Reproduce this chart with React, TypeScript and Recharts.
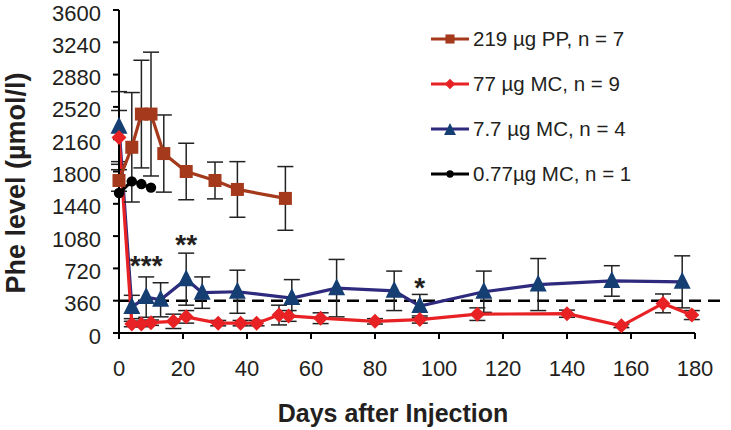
import React from "react";
import {
  LineChart, Line, XAxis, YAxis, ErrorBar, ReferenceLine, ReferenceDot, Legend,
} from "recharts";

const FONT = '"Liberation Sans", Arial, Helvetica, sans-serif';
const INK = "#231f20";

// 219 µg PP, n = 7
const ppDays = [0, 4, 7, 10, 14, 21, 30, 37, 52];
const ppPhe = [1700, 2070, 2440, 2440, 2000, 1800, 1700, 1600, 1500];
const ppSd = [120, 610, 600, 690, 430, 315, 205, 310, 355];

// 77 µg MC, n = 9
const mc77Days = [0, 4, 7, 10, 17, 21, 31, 38, 43, 50, 53, 63, 80, 94, 112, 140, 157, 170, 179];
const mc77Phe = [2180, 100, 100, 115, 130, 180, 110, 110, 110, 200, 190, 165, 130, 150, 210, 215, 80, 330, 200];
const mc77Sd = [300, 30, 30, 30, 80, 70, 30, 30, 30, 110, 60, 60, 30, 40, 70, 40, 20, 105, 50];

// 7.7 µg MC, n = 4
const mc7Days = [0, 4, 8.5, 13, 21, 26, 37, 54, 68, 86, 94, 114, 131, 154, 176];
const mc7Phe = [2300, 290, 400, 370, 600, 450, 460, 390, 500, 470, 300, 460, 540, 580, 570];
const mc7Sd = [390, 130, 225, 190, 290, 175, 240, 205, 320, 220, 130, 230, 290, 170, 290];

// 0.77 µg MC, n = 1
const mc077Days = [0, 4, 7, 10];
const mc077Phe = [1560, 1690, 1660, 1620];

const xTicks = [0, 20, 40, 60, 80, 100, 120, 140, 160, 180];
const yTicks = [0, 360, 720, 1080, 1440, 1800, 2160, 2520, 2880, 3240, 3600];
const PHE_LIMIT = 360;

const sigDays = [8.5, 21, 94];
const sigPhe = [820, 1060, 580];
const sigText = ["***", "**", "*"];

const rows = (days: number[], phe: number[], sd?: number[]) =>
  days.map((d, i) => ({ day: d, phe: phe[i], sd: sd ? sd[i] : 0 }));

type Shape = "square" | "diamond" | "triangle" | "circle";

function Marker({ shape, x, y, fill, s = 1 }: { shape: Shape; x: number; y: number; fill: string; s?: number }) {
  if (shape === "square") {
    const h = 6.5 * s;
    return <rect x={x - h} y={y - h} width={h * 2} height={h * 2} fill={fill} />;
  }
  if (shape === "diamond") {
    const h = 7.5 * s;
    return <polygon points={`${x},${y - h} ${x + h},${y} ${x},${y + h} ${x - h},${y}`} fill={fill} />;
  }
  if (shape === "triangle") {
    return (
      <polygon
        points={`${x},${y - 10 * s} ${x + 8.5 * s},${y + 7 * s} ${x - 8.5 * s},${y + 7 * s}`}
        fill={fill}
      />
    );
  }
  return <circle cx={x} cy={y} r={5.2 * s} fill={fill} />;
}

const series = [
  { name: "219 µg PP, n = 7", line: "#a5391c", fill: "#a5391c", shape: "square" as Shape, data: rows(ppDays, ppPhe, ppSd), err: true },
  { name: "77 µg MC, n = 9", line: "#e82224", fill: "#e82224", shape: "diamond" as Shape, data: rows(mc77Days, mc77Phe, mc77Sd), err: true },
  { name: "7.7 µg MC, n = 4", line: "#2e2a7e", fill: "#153e73", shape: "triangle" as Shape, data: rows(mc7Days, mc7Phe, mc7Sd), err: true },
  { name: "0.77µg MC, n = 1", line: "#000000", fill: "#000000", shape: "circle" as Shape, data: rows(mc077Days, mc077Phe), err: false },
];

// draw order: blue under red, brown and black on top
const drawOrder = [2, 1, 0, 3];

const dotFor = (shape: Shape, fill: string) => (p: any) => {
  if (p.cx == null || p.cy == null) return <g key={p.index} />;
  return (
    <g key={p.index}>
      <Marker shape={shape} x={p.cx} y={p.cy} fill={fill} />
    </g>
  );
};

const YTick = (p: any) => (
  <text x={p.x} y={p.y + 3} textAnchor="end" dominantBaseline="central" fontFamily={FONT} fontSize={22} fill={INK}>
    {p.payload.value}
  </text>
);

const renderLegend = () => (
  <div style={{ fontFamily: FONT, fontSize: 20.5, color: INK }}>
    {series.map((s) => (
      <div key={s.name} style={{ display: "flex", alignItems: "center", height: 45 }}>
        <svg width={38} height={20} style={{ flex: "none" }}>
          <line x1={0} y1={10} x2={38} y2={10} stroke={s.line} strokeWidth={3} />
          <Marker shape={s.shape} x={19} y={s.shape === "triangle" ? 11 : 10} fill={s.fill} s={0.7} />
        </svg>
        <span style={{ marginLeft: 4, whiteSpace: "nowrap" }}>{s.name}</span>
      </div>
    ))}
  </div>
);

const sigLabel = (text: string) => (p: any) => {
  const vb = p.viewBox || {};
  const cx = vb.x + (vb.width || 0) / 2;
  const cy = vb.y + (vb.height || 0) / 2;
  return (
    <text x={cx} y={cy + 16} textAnchor="middle" fontFamily={FONT} fontSize={28} fontWeight="bold" fill={INK}>
      {text}
    </text>
  );
};

export default function App() {
  return (
    <div style={{ position: "absolute", left: 0, top: 0, width: 731, height: 430, background: "#fff" }}>
      <LineChart width={731} height={430} margin={{ top: 10, right: 36, bottom: 0, left: 0 }}>
        <XAxis
          dataKey="day"
          type="number"
          domain={[0, 180]}
          ticks={xTicks}
          interval={0}
          height={97}
          tickSize={6}
          tickMargin={21}
          axisLine={{ stroke: "#000", strokeWidth: 2 }}
          tickLine={{ stroke: "#000", strokeWidth: 2 }}
          tick={{ fontSize: 22, fill: INK, fontFamily: FONT }}
          label={() => (
            <text x={393} y={422} textAnchor="middle" fontFamily={FONT} fontSize={25} fontWeight="bold" fill={INK}>
              Days after Injection
            </text>
          )}
        />
        <YAxis
          type="number"
          domain={[0, 3600]}
          ticks={yTicks}
          interval={0}
          width={119}
          tickSize={6}
          tickMargin={12}
          axisLine={{ stroke: "#000", strokeWidth: 2 }}
          tickLine={{ stroke: "#000", strokeWidth: 2 }}
          tick={YTick}
          label={() => (
            <text
              x={25}
              y={183}
              transform="rotate(-90, 25, 183)"
              textAnchor="middle"
              fontFamily={FONT}
              fontSize={27}
              fontWeight="bold"
              fill={INK}
            >
              Phe level (µmol/l)
            </text>
          )}
        />
        <ReferenceLine
          segment={[{ x: 0, y: PHE_LIMIT }, { x: 189, y: PHE_LIMIT }]}
          ifOverflow="visible"
          stroke="#000"
          strokeWidth={2.5}
          strokeDasharray="12 7"
        />
        {drawOrder.map((i) => {
          const s = series[i];
          return (
            <Line
              key={s.name}
              data={s.data}
              dataKey="phe"
              name={s.name}
              stroke={s.line}
              strokeWidth={3.2}
              dot={dotFor(s.shape, s.fill)}
              activeDot={false}
              isAnimationActive={false}
              legendType="none"
            >
              {s.err && (
                <ErrorBar dataKey="sd" direction="y" width={8} strokeWidth={1.5} stroke="#222" isAnimationActive={false} />
              )}
            </Line>
          );
        })}
        {sigText.map((t, i) => (
          <ReferenceDot
            key={t}
            x={sigDays[i]}
            y={sigPhe[i]}
            r={1}
            fill="none"
            stroke="none"
            ifOverflow="visible"
            label={sigLabel(t)}
          />
        ))}
        <Legend
          layout="vertical"
          align="center"
          verticalAlign="middle"
          wrapperStyle={{ left: 431, top: 16, width: 290, height: 180 }}
          content={renderLegend}
        />
      </LineChart>
    </div>
  );
}
